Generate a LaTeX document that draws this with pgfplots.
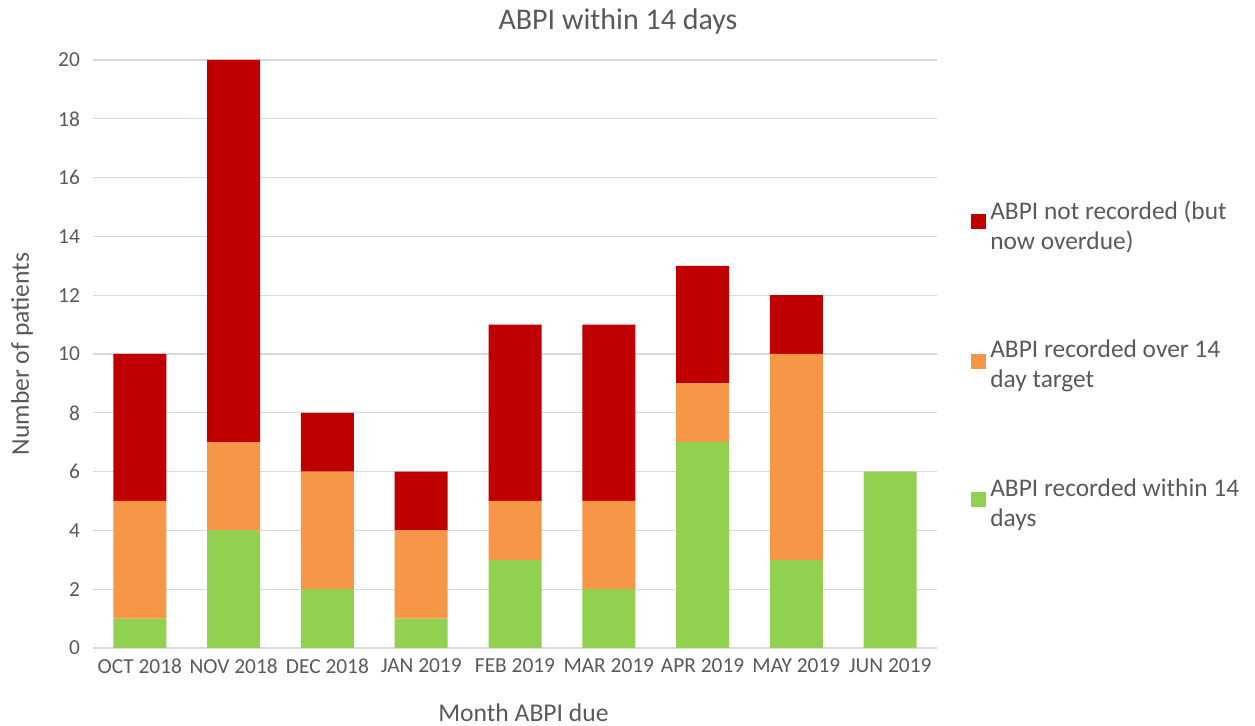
\documentclass[border=0pt]{standalone}
\usepackage{pgfplots}
\pgfplotsset{compat=1.18}
\usepackage{fontspec}
\setmainfont{Carlito}
\usetikzlibrary{calc}
\definecolor{cred}{HTML}{C00000}
\definecolor{corange}{HTML}{F79646}
\definecolor{cgreen}{HTML}{92D050}
\definecolor{ctext}{HTML}{595959}
\definecolor{cgrid}{HTML}{D9D9D9}
\begin{document}
\begin{tikzpicture}
\begin{axis}[
  scale only axis, width=422pt, height=294pt,
  ybar stacked, bar width=26.5pt,
  xmin=-0.5, xmax=8.5, ymin=0, ymax=20,
  xtick={0,...,8},
  xticklabels={OCT 2018,NOV 2018,DEC 2018,JAN 2019,FEB 2019,MAR 2019,APR 2019,MAY 2019,JUN 2019},
  ytick={0,2,...,20},
  ymajorgrids, grid style={cgrid, line width=0.6pt},
  axis lines*=left,
  y axis line style={draw=none},
  x axis line style={draw=cgrid, line width=0.6pt},
  major tick length=0pt,
  /pgf/number format/assume math mode=true,
  ticklabel style={font=\fontsize{10.7}{12}\selectfont, text=ctext},
  xticklabel style={yshift=-2pt},
  yticklabel style={xshift=-3pt},
  title={ABPI within 14 days},
  every axis title/.style={at={(axis description cs:0.622,1.065)}, anchor=center, font=\fontsize{15}{17}\selectfont, text=ctext},
  xlabel={Month ABPI due},
  xlabel style={at={(axis description cs:0.51,-0.11)}, anchor=center, font=\fontsize{12.8}{14}\selectfont, text=ctext},
  ylabel={Number of patients},
  ylabel style={at={(axis description cs:-0.084,0.5)}, anchor=center, font=\fontsize{12.8}{14}\selectfont, text=ctext},
  legend style={at={(axis description cs:1.033,0.775)}, anchor=north west, draw=none, fill=none,
    font=\fontsize{12.7}{15}\selectfont, text=ctext, row sep=40pt,
    cells={anchor=west, align=left}},
  legend cell align=left,
  reverse legend,
  legend image code/.code={\fill[#1] (0pt,-1.5pt) rectangle (7.5pt,6pt);},
  every axis plot/.append style={draw=none},
]
\addplot[fill=cgreen] coordinates {(0,1) (1,4) (2,2) (3,1) (4,3) (5,2) (6,7) (7,3) (8,6)};
\addplot[fill=corange] coordinates {(0,4) (1,3) (2,4) (3,3) (4,2) (5,3) (6,2) (7,7) (8,0)};
\addplot[fill=cred] coordinates {(0,5) (1,13) (2,2) (3,2) (4,6) (5,6) (6,4) (7,2) (8,0)};
\legend{ABPI recorded within 14\\days, ABPI recorded over 14\\day target, ABPI not recorded (but\\now overdue)}
\end{axis}
\pgfresetboundingbox
\path ($(current axis.south west)+(-46.5pt,-39pt)$) rectangle ($(current axis.north east)+(159pt,30pt)$);
\end{tikzpicture}
\end{document}
